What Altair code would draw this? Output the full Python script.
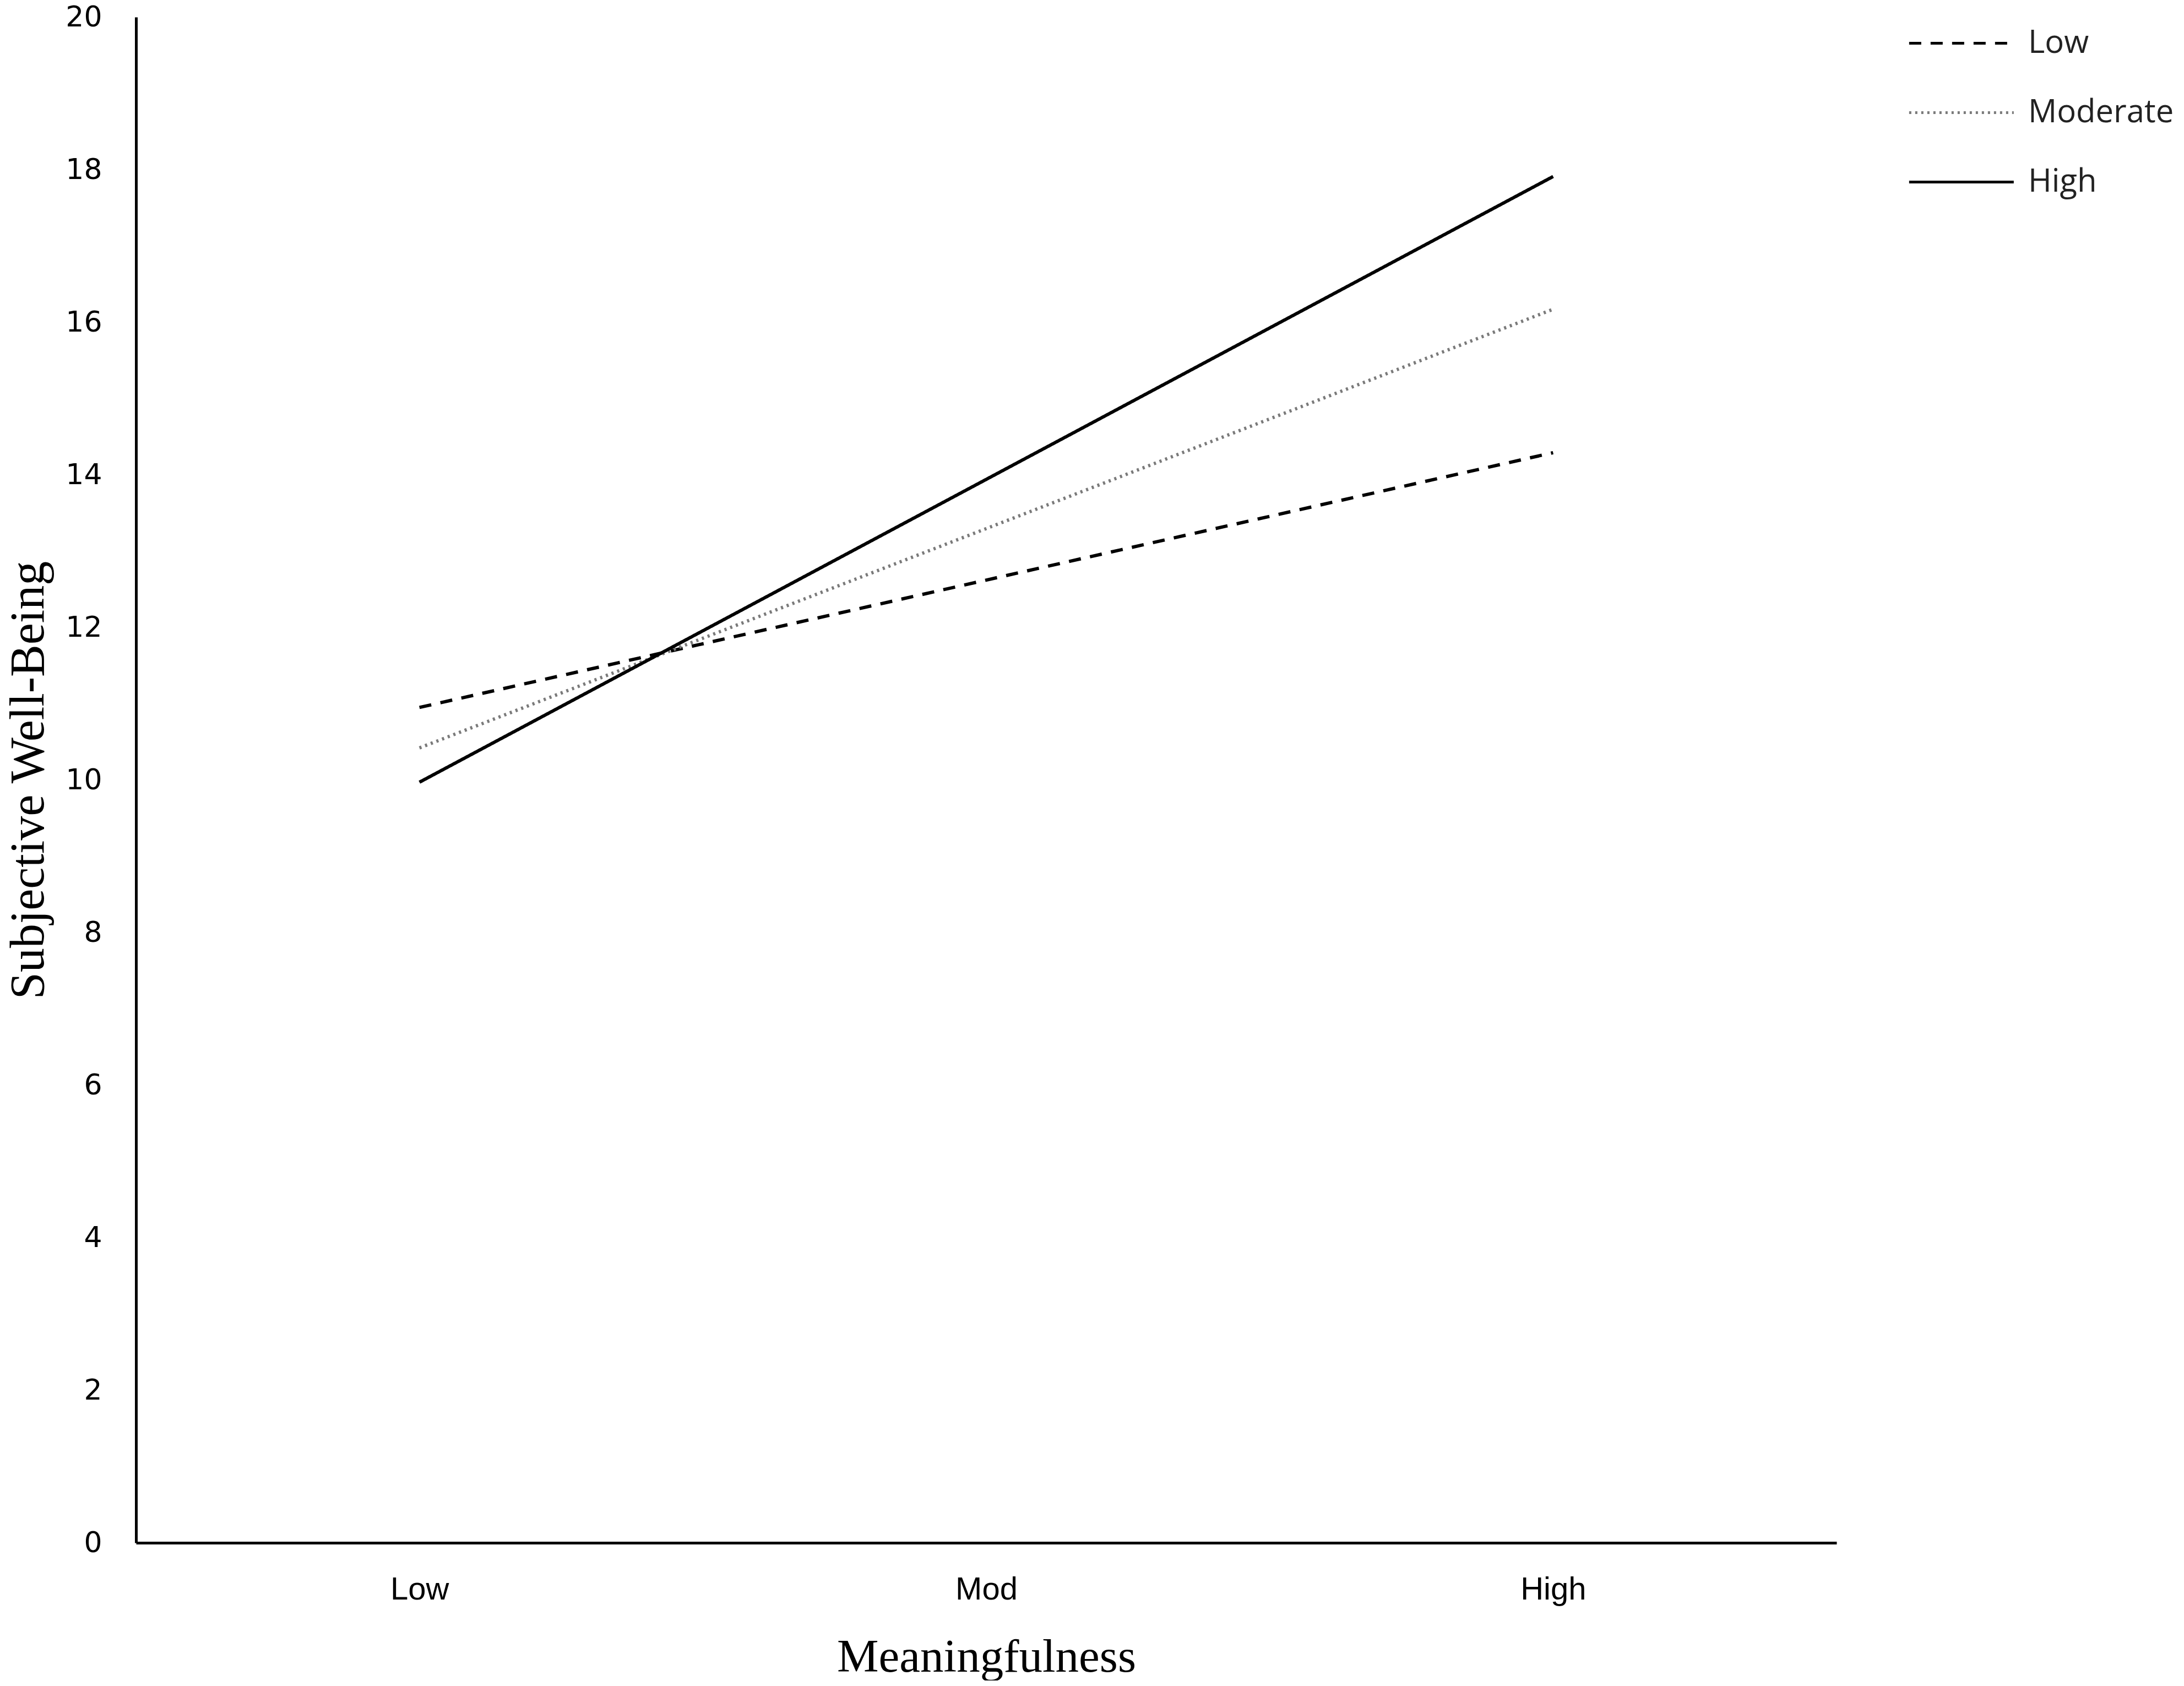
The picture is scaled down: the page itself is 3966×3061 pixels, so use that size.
import altair as alt
import pandas as pd

# Data
meaning_levels = ["Low", "Mod", "High"]
moderators = ["Low", "Moderate", "High"]
x_points = ["Low", "High"]
low_series = [10.95, 14.29]
moderate_series = [10.42, 16.17]
high_series = [9.97, 17.91]
y_ticks = [0, 2, 4, 6, 8, 10, 12, 14, 16, 18, 20]

rows = []
for name, vals in zip(moderators, [low_series, moderate_series, high_series]):
    for xv, yv in zip(x_points, vals):
        rows.append({"Meaningfulness": xv, "SWB": yv, "moderator": name})
df = pd.DataFrame(rows)

line = alt.Chart(df).mark_line(strokeCap="butt", strokeWidth=6).encode(
    x=alt.X(
        "Meaningfulness:N",
        scale=alt.Scale(type="point", domain=meaning_levels, padding=0.5),
        sort=meaning_levels,
        axis=alt.Axis(
            title="Meaningfulness",
            titleFont="Liberation Serif",
            titleFontSize=85,
            titleFontWeight="normal",
            titleColor="#000000",
            titlePadding=52,
            labelFont="Liberation Sans",
            labelFontSize=58,
            labelColor="#000000",
            labelPadding=56,
            labelAngle=0,
            ticks=False,
            domainColor="#000000",
            domainWidth=5,
            grid=False,
        ),
    ),
    y=alt.Y(
        "SWB:Q",
        scale=alt.Scale(domain=[0, 20], nice=False, zero=True),
        axis=alt.Axis(
            title="Subjective Well-Being",
            titleFont="Liberation Serif",
            titleFontSize=88,
            titleFontWeight="normal",
            titleColor="#000000",
            titlePadding=22,
            values=y_ticks,
            labelFont="DejaVu Sans",
            labelFontSize=52,
            labelColor="#000000",
            labelPadding=62,
            ticks=False,
            domainColor="#000000",
            domainWidth=5,
            grid=False,
        ),
    ),
    detail="moderator:N",
    stroke=alt.Stroke(
        "moderator:N",
        sort=moderators,
        scale=alt.Scale(domain=moderators, range=["#000000", "#7a7a7a", "#000000"]),
        legend=alt.Legend(
            title=None,
            orient="none",
            legendX=3217,
            legendY=13,
            padding=0,
            symbolType="M-1,0L5,0",
            symbolSize=4011,
            symbolStrokeWidth=5,
            symbolFillColor="transparent",
            labelFont="Open Sans",
            labelFontSize=58,
            labelColor="#222222",
            labelOffset=150,
            labelLimit=0,
            rowPadding=62,
        ),
    ),
    strokeDash=alt.StrokeDash(
        "moderator:N",
        sort=moderators,
        scale=alt.Scale(domain=moderators, range=[[22, 17], [4, 7], [1, 0]]),
    ),
    strokeWidth=alt.condition(
        alt.datum.moderator == "Moderate", alt.value(4), alt.value(6)
    ),
)

chart = line.properties(
    width=3088,
    height=2770,
    background="white",
    autosize=alt.AutoSizeParams(type="none"),
    padding={"left": 239, "top": 23, "right": 615, "bottom": 250},
).configure_view(strokeWidth=0, stroke="transparent")

chart.save("out.html", embed_options={"renderer": "svg", "actions": False})
